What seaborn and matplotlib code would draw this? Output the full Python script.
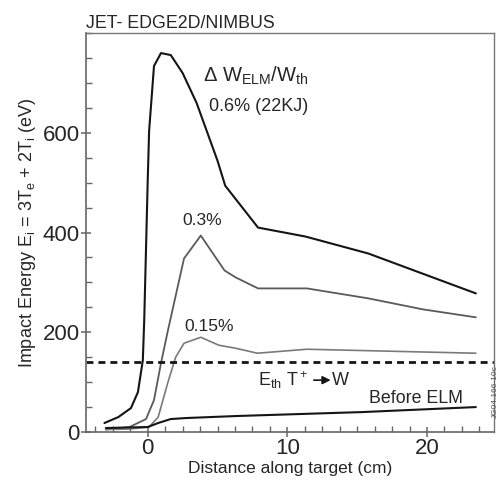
import numpy as np
import pandas as pd
import seaborn as sns
import matplotlib.pyplot as plt
import matplotlib.ticker as ticker

# distance along target (cm) and impact energy (eV)
x_06 = [-3.1, -2.1, -1.2, -0.7, -0.35, -0.25, 0.0, 0.1, 0.45, 0.95, 1.65, 2.5, 3.5, 5.0, 5.55, 7.9, 11.3, 15.8, 23.5]
e_06 = [18, 30, 48, 80, 144, 224, 504, 604, 734, 760, 756, 720, 660, 544, 494, 410, 392, 358, 278]

x_03 = [-3.0, -1.3, -0.12, 0.45, 0.95, 1.45, 2.6, 3.8, 5.5, 6.3, 7.9, 11.4, 15.8, 19.7, 23.5]
e_03 = [5, 10, 26, 64, 138, 204, 348, 394, 324, 310, 288, 288, 268, 246, 230]

x_015 = [-3.0, -1.3, 0.1, 0.75, 1.45, 2.0, 2.6, 3.8, 5.1, 6.3, 7.85, 11.4, 17.4, 23.5]
e_015 = [5, 6, 10, 30, 100, 150, 178, 190, 174, 168, 158, 166, 162, 158]

x_pre = [-3.0, 0.0, 0.75, 1.65, 2.75, 6.3, 15.4, 23.5]
e_pre = [8, 10, 18, 26, 28, 32, 40, 50]

e_th = 140

sns.set_theme(style="white")
plt.rcParams['font.family'] = ['Liberation Sans', 'DejaVu Sans']
plt.rcParams['mathtext.fontset'] = 'custom'
plt.rcParams['mathtext.rm'] = 'Liberation Sans'
plt.rcParams['mathtext.it'] = 'Liberation Sans:italic'

fig = plt.figure(figsize=(5, 4.8), dpi=100)
ax = fig.add_axes([0.172, 0.1, 0.816, 0.831])

sns.lineplot(x=x_06, y=e_06, ax=ax, color="#151515", lw=1.5, sort=False, estimator=None)
sns.lineplot(x=x_03, y=e_03, ax=ax, color="#5a5a5a", lw=1.3, sort=False, estimator=None)
sns.lineplot(x=x_015, y=e_015, ax=ax, color="#7a7a7a", lw=1.2, sort=False, estimator=None)
sns.lineplot(x=x_pre, y=e_pre, ax=ax, color="#151515", lw=1.5, sort=False, estimator=None)
ax.axhline(e_th, color="#151515", lw=2, ls=(0, (2.5, 1.8)))

ax.set_xlim(-4.42, 24.8)
ax.set_ylim(0, 800)
ax.yaxis.set_major_locator(ticker.FixedLocator([0, 200, 400, 600]))
ax.yaxis.set_minor_locator(ticker.MultipleLocator(50))
ax.xaxis.set_major_locator(ticker.FixedLocator([0, 10, 20]))
ax.xaxis.set_minor_locator(ticker.MultipleLocator(1.25))
ax.tick_params(which="major", direction="inout", length=7, width=1.1, color="#666666",
               labelsize=16, pad=1, left=True, bottom=True)
ax.tick_params(which="minor", direction="in", length=4, width=1.0, color="#666666",
               left=True, bottom=True)
ax.tick_params(axis="x", which="major", pad=1)

for s in ["left", "bottom"]:
    ax.spines[s].set_color("#666666")
    ax.spines[s].set_linewidth(1.2)
for s in ["top", "right"]:
    ax.spines[s].set_color("#777777")
    ax.spines[s].set_linewidth(1.0)

ax.set_xlabel("Distance along target (cm)", fontsize=12.5, labelpad=1)
ax.set_ylabel(r"Impact Energy E$_\mathrm{i}$ = 3T$_\mathrm{e}$ + 2T$_\mathrm{i}$ (eV)", fontsize=13, labelpad=3)
ax.set_title("JET- EDGE2D/NIMBUS", loc="left", fontsize=12.8, pad=4)

ax.text(3.96, 714, r"$\Delta$ W$_\mathrm{ELM}$/W$_\mathrm{th}$", fontsize=14.5, va="center", ha="left")
ax.text(4.4, 652, "0.6% (22KJ)", fontsize=13, va="center", ha="left")
ax.text(3.9, 424, "0.3%", fontsize=12.6, va="center", ha="center")
ax.text(4.4, 212, "0.15%", fontsize=12.6, va="center", ha="center")
ax.text(7.9, 104, r"E$_\mathrm{th}$ T$^+$", fontsize=13, va="center", ha="left")
ax.annotate("", xy=(13.3, 104), xytext=(11.7, 104),
            arrowprops=dict(arrowstyle="-|>", color="#151515", lw=1.2, mutation_scale=12))
ax.text(13.2, 104, "W", fontsize=13, va="center", ha="left")
ax.text(19.2, 68, "Before ELM", fontsize=12.8, va="center", ha="center")
fig.text(0.997, 0.13, "JG04.166-10c", rotation=90, fontsize=6, color="#555555", ha="right", va="bottom")

fig.savefig("out.png", dpi=100)
